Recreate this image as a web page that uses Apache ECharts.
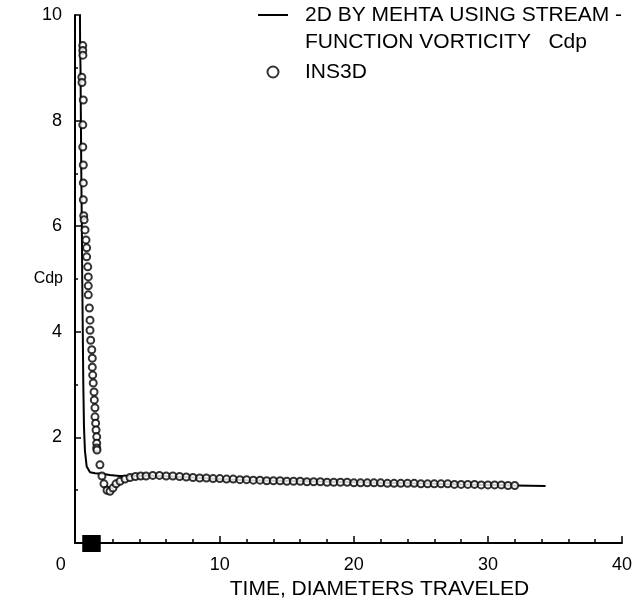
<!DOCTYPE html>
<html><head><meta charset="utf-8">
<script src="https://cdn.jsdelivr.net/npm/echarts@6/dist/echarts.min.js"></script>
<style>html,body{margin:0;padding:0;background:#fff}#c{width:634px;height:604px}</style>
</head><body><div id="c"></div>
<script>
// ---- data ----
const mehtaT = [-0.43,-0.42,-0.39,-0.36,-0.33,-0.29,-0.26,-0.22,-0.18,-0.13,-0.06,0.07,0.32,0.7,1.2,1.8,2.5,3.5,4.5,5.5,6.5,8,10,12,14,16,18,20,22,24,26,28,30,32,34.3];
const mehtaV = [10,9.5,9,8,7,6,5,4,3,2.2,1.75,1.45,1.34,1.32,1.31,1.29,1.27,1.27,1.28,1.27,1.26,1.24,1.21,1.19,1.18,1.17,1.16,1.15,1.14,1.13,1.12,1.11,1.10,1.09,1.08];

const insT = [-0.22,-0.22,-0.21,-0.29,-0.28,-0.18,-0.22,-0.22,-0.18,-0.18,-0.18,-0.15,-0.12,-0.05,0.02,0.07,0.07,0.15,0.19,0.19,0.19,0.27,0.32,0.32,0.37,0.45,0.49,0.49,0.52,0.56,0.62,0.64,0.69,0.69,0.74,0.77,0.82,0.82,0.82,0.84,1.06,
  1.21,1.36,1.59,1.81,2.03,2.26,2.56,2.93,
  3.3,3.7,4.1,4.5,5.0,5.5,6.0,6.5,7.0,7.5,8.0,8.5,9.0,9.5,10.0,10.5,11.0,11.5,12.0,12.5,13.0,13.5,14.0,14.5,15.0,15.5,16.0,16.5,17.0,17.5,18.0,18.5,19.0,19.5,20.0,20.5,21.0,21.5,22.0,22.5,23.0,23.5,24.0,24.5,25.0,25.5,26.0,26.5,27.0,27.5,28.0,28.5,29.0,29.5,30.0,30.5,31.0,31.5,32.0];
const insV = [9.42,9.33,9.24,8.82,8.72,8.39,7.92,7.50,7.16,6.82,6.50,6.20,6.12,5.93,5.74,5.59,5.42,5.23,5.04,4.87,4.70,4.45,4.22,4.03,3.84,3.66,3.50,3.33,3.18,3.03,2.86,2.71,2.56,2.39,2.27,2.14,2.01,1.89,1.80,1.76,1.48,
  1.27,1.12,1.00,0.98,1.04,1.12,1.17,1.21,
  1.24,1.26,1.27,1.27,1.28,1.28,1.27,1.27,1.26,1.25,1.24,1.23,1.23,1.22,1.22,1.21,1.21,1.20,1.20,1.19,1.19,1.18,1.18,1.18,1.17,1.17,1.17,1.16,1.16,1.16,1.15,1.15,1.15,1.15,1.14,1.14,1.14,1.14,1.14,1.13,1.13,1.13,1.13,1.13,1.12,1.12,1.12,1.12,1.12,1.11,1.11,1.11,1.11,1.10,1.10,1.10,1.10,1.09,1.09];

const xLabelValues = [0,10,20,30,40];
const xMajorTicks = [10,20,30,40];
const xMinorTicks = [2,4,6,8,12,14,16,18,22,24,26,28,32,34,36,38];
const originMarks = [-0.2,-0.1,0,0.1,0.2,0.3,0.4,0.5,0.6,0.7,0.8,0.9,1.0];
const seriesNames = ['2D BY MEHTA USING STREAM -\nFUNCTION VORTICITY   Cdp', 'INS3D'];
const xTitle = 'TIME, DIAMETERS TRAVELED';
const yTitle = 'Cdp';

// ---- chart ----
const FONT = '"Liberation Sans", Arial, sans-serif';
const zip = (a, b) => a.map((v, i) => [v, b[i]]);
const chart = echarts.init(document.getElementById('c'), null, {renderer: 'canvas'});

const baseX = {
  type: 'value', min: -0.8, max: 40, position: 'bottom', gridIndex: 0,
  splitLine: {show: false},
  axisLine: {show: false},
  axisLabel: {show: false},
  axisTick: {show: false}
};

chart.setOption({
  backgroundColor: '#fff',
  animation: false,
  grid: {left: 75, right: 12, top: 15, bottom: 61, containLabel: false, outerBoundsMode: 'none'},
  legend: {
    orient: 'vertical', left: 258, top: -25.5, padding: 0, itemGap: 3,
    itemWidth: 30, itemHeight: 11,
    textStyle: {fontFamily: FONT, fontSize: 21, color: '#000', lineHeight: 27},
    formatter: name => name === seriesNames[0] ? '\n' + name : name,
    data: [
      {name: seriesNames[0], icon: 'path://M0,0M0,4.5L30,4.5L30,6.5L0,6.5ZM30,11', textStyle: {padding: [0, 0, 0, 12]}},
      {name: seriesNames[1], textStyle: {padding: [0, 0, 0, 12]}}
    ]
  },
  xAxis: [
    Object.assign({}, baseX, {
      axisLine: {show: true, onZero: false, lineStyle: {color: '#000', width: 2}},
      axisTick: {show: true, inside: true, length: 7, customValues: xMajorTicks, lineStyle: {color: '#000', width: 1.5}},
      axisLabel: {
        show: true, customValues: xLabelValues, margin: 13,
        fontFamily: FONT, fontSize: 18, color: '#000',
        formatter: v => v === 0 ? '{z|0}' : '{n|' + v + '}',
        rich: {
          z: {fontFamily: FONT, fontSize: 18, color: '#000', padding: [0, 50, 0, 0]},
          n: {fontFamily: FONT, fontSize: 18, color: '#000'}
        }
      },
      name: xTitle, nameLocation: 'middle', nameGap: 36, nameMoveOverlap: false,
      nameTextStyle: {fontFamily: FONT, fontSize: 21, color: '#000', padding: [0, 0, 0, 62]}
    }),
    Object.assign({}, baseX, {
      axisTick: {show: true, inside: true, length: 4, customValues: xMinorTicks, lineStyle: {color: '#000', width: 1.5}}
    }),
    Object.assign({}, baseX, {
      axisTick: {show: true, inside: true, length: 8, customValues: originMarks, lineStyle: {color: '#000', width: 2.5}}
    }),
    Object.assign({}, baseX, {
      axisTick: {show: true, inside: false, length: 9, customValues: originMarks, lineStyle: {color: '#000', width: 2.5}}
    })
  ],
  yAxis: {
    type: 'value', min: 0, max: 10, interval: 2,
    splitLine: {show: false},
    axisLine: {show: true, onZero: false, lineStyle: {color: '#000', width: 2}},
    axisTick: {show: true, inside: true, length: 6, lineStyle: {color: '#000', width: 1.5}},
    minorTick: {show: true, splitNumber: 2, length: 3, lineStyle: {color: '#000', width: 1.5}},
    axisLabel: {margin: 13, fontFamily: FONT, fontSize: 18, color: '#000',
      formatter: v => v === 0 ? '' : String(v)},
    name: yTitle, nameLocation: 'middle', nameRotate: 0, nameGap: 12, nameMoveOverlap: false,
    nameTextStyle: {fontFamily: FONT, fontSize: 16, color: '#000'}
  },
  series: [
    {
      name: seriesNames[0], type: 'line', xAxisIndex: 0, yAxisIndex: 0,
      data: zip(mehtaT, mehtaV), showSymbol: false, symbol: 'none', smooth: false,
      lineStyle: {color: '#000', width: 2}, itemStyle: {color: '#000'}, z: 2
    },
    {
      name: seriesNames[1], type: 'scatter', xAxisIndex: 0, yAxisIndex: 0,
      data: zip(insT, insV), symbol: 'circle', symbolSize: 7,
      itemStyle: {color: '#fff', borderColor: '#000', borderWidth: 2}, z: 3
    }
  ]
});
</script></body></html>
